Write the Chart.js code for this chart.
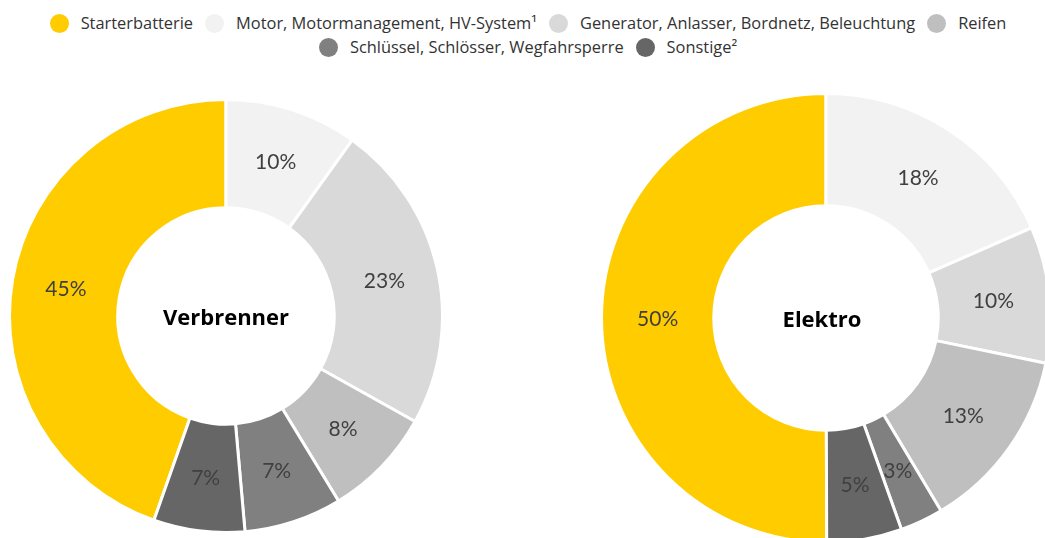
<!DOCTYPE html>
<html lang="de">
<head>
<meta charset="utf-8">
<title>Pannenursachen Verbrenner / Elektro</title>
<script src="https://cdn.jsdelivr.net/npm/chart.js@4.4.1/dist/chart.umd.min.js"></script>
<style>
    html, body {
        margin: 0;
        padding: 0;
        background: #fff;
        width: 1045px;
        height: 538px;
        overflow: hidden;
        position: relative;
    }
    #legend {
        position: absolute;
        top: 11px;
        left: 28px;
        width: 1000px;
        display: flex;
        flex-wrap: wrap;
        justify-content: center;
        font-family: "Open Sans", sans-serif;
        font-size: 16.4px;
        line-height: 24px;
        color: #333;
    }
    .item { display: flex; align-items: center; margin: 0 6px; }
    .dot { width: 19px; height: 19px; border-radius: 50%; margin-right: 12px; }
    .box { position: absolute; }
</style>
</head>
<body>
<div id="legend"></div>
<div class="box" style="left:8px; top:98px;"><canvas id="verbrenner" width="436" height="436"></canvas></div>
<div class="box" style="left:600px; top:92px;"><canvas id="elektro" width="452" height="452"></canvas></div>
<script>
let categories = [
    'Starterbatterie',
    'Motor, Motormanagement, HV-System¹',
    'Generator, Anlasser, Bordnetz, Beleuchtung',
    'Reifen',
    'Schlüssel, Schlösser, Wegfahrsperre',
    'Sonstige²'
];
// shares in percent
let verbrennerValues = [44.6, 9.9, 23.2, 8.2, 7.3, 6.8];
let elektroValues = [50, 18.4, 9.8, 13.2, 3.1, 5.4];
let chartTitles = ['Verbrenner', 'Elektro'];

let colors = ['#FFCC00', '#F2F2F2', '#D9D9D9', '#BFBFBF', '#808080', '#666666'];

// legend above both charts
let legend = document.getElementById('legend');
categories.forEach(function (name, i) {
    let item = document.createElement('div');
    item.className = 'item';
    item.innerHTML = '<span class="dot" style="background:' + colors[i] + '"></span><span>' + name + '</span>';
    legend.appendChild(item);
});

// percentage on every slice plus the title in the hole
const sliceLabels = {
    id: 'sliceLabels',
    afterDatasetsDraw(chart, args, opts) {
        const ctx = chart.ctx;
        const meta = chart.getDatasetMeta(0);
        const data = chart.data.datasets[0].data;
        ctx.save();
        ctx.textAlign = 'center';
        ctx.textBaseline = 'middle';
        ctx.font = '21px Lato';
        ctx.fillStyle = '#404040';
        meta.data.forEach(function (arc, i) {
            let p = arc.getCenterPoint();
            ctx.fillText(Math.round(data[i]) + '%', p.x, p.y + 1);
        });
        let area = chart.chartArea;
        ctx.font = 'bold 22px "Open Sans"';
        ctx.fillStyle = '#000';
        ctx.fillText(opts.title, (area.left + area.right) / 2 + opts.dx, (area.top + area.bottom) / 2 + 3);
        ctx.restore();
    }
};

function makeDonut(id, values, title, dx) {
    let total = values.reduce((a, b) => a + b, 0);
    return new Chart(document.getElementById(id), {
        type: 'doughnut',
        data: {
            labels: categories,
            datasets: [{
                data: values,
                backgroundColor: colors,
                borderColor: '#ffffff',
                borderWidth: 3
            }]
        },
        options: {
            responsive: false,
            animation: false,
            cutout: '50%',
            rotation: -values[0] / total * 360, // Starterbatterie ends at 12 o'clock
            plugins: {
                legend: { display: false },
                tooltip: { enabled: false },
                sliceLabels: { title: title, dx: dx }
            }
        },
        plugins: [sliceLabels]
    });
}

makeDonut('verbrenner', verbrennerValues, chartTitles[0], 0);
makeDonut('elektro', elektroValues, chartTitles[1], -4);
</script>
</body>
</html>
